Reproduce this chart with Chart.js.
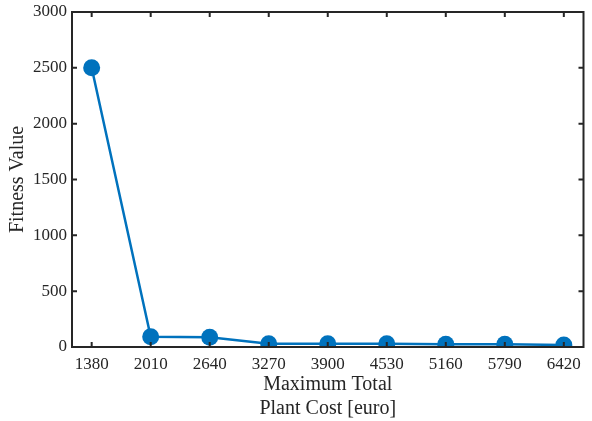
<!DOCTYPE html>
<html>
<head>
<meta charset="utf-8">
<script src="https://cdn.jsdelivr.net/npm/chart.js@4"></script>
<style>
  html, body { margin: 0; padding: 0; background: #fff; }
  #wrap { width: 592px; height: 421px; }
</style>
</head>
<body>
<div id="wrap"><canvas id="chart"></canvas></div>
<script>
// values
const plantCost = [1380, 2010, 2640, 3270, 3900, 4530, 5160, 5790, 6420];
const fitness = [2500, 92, 87, 30, 30, 30, 25, 24, 17];
const yTicks = [0, 500, 1000, 1500, 2000, 2500, 3000];

const AXIS = '#262626';
const BLUE = '#0072BD';
const FONT = '"Liberation Serif", "DejaVu Serif", serif';

// box around the plot with inward ticks on all four sides
const boxPlugin = {
  id: 'box',
  afterDraw(chart) {
    const { ctx, chartArea: a, scales } = chart;
    ctx.save();
    ctx.strokeStyle = AXIS;
    ctx.lineWidth = 2;
    ctx.strokeRect(a.left, a.top, a.right - a.left, a.bottom - a.top);
    const len = 5;
    ctx.beginPath();
    plantCost.forEach(v => {
      const x = scales.x.getPixelForValue(v);
      ctx.moveTo(x, a.bottom); ctx.lineTo(x, a.bottom - len);
      ctx.moveTo(x, a.top); ctx.lineTo(x, a.top + len);
    });
    yTicks.forEach(v => {
      const y = scales.y.getPixelForValue(v);
      ctx.moveTo(a.left, y); ctx.lineTo(a.left + len, y);
      ctx.moveTo(a.right, y); ctx.lineTo(a.right - len, y);
    });
    ctx.stroke();
    ctx.restore();
  }
};

new Chart(document.getElementById('chart'), {
  type: 'line',
  data: {
    datasets: [{
      data: plantCost.map((c, i) => ({ x: c, y: fitness[i] })),
      borderColor: BLUE,
      backgroundColor: BLUE,
      borderWidth: 2.5,
      pointRadius: 8.5,
      pointHoverRadius: 8.5,
      pointBorderWidth: 0,
      tension: 0
    }]
  },
  options: {
    responsive: true,
    maintainAspectRatio: false,
    animation: false,
    layout: { padding: { top: 12, right: 6, left: 0, bottom: 0 } },
    plugins: { legend: { display: false }, tooltip: { enabled: false } },
    scales: {
      x: {
        type: 'linear',
        min: 1170,
        max: 6630,
        afterBuildTicks: s => { s.ticks = plantCost.map(v => ({ value: v })); },
        afterFit: s => { s.height = 74; s.paddingLeft = 0; s.paddingRight = 0; },
        grid: { display: false, drawTicks: false },
        border: { display: false },
        ticks: { color: AXIS, font: { family: FONT, size: 17 }, padding: 7, maxRotation: 0, autoSkip: false,
                 callback: v => String(v) },
        title: {
          display: true,
          text: ['Maximum Total', 'Plant Cost [euro]'],
          color: AXIS,
          font: { family: FONT, size: 20, lineHeight: 1.2 },
          padding: { top: 0, bottom: 0 }
        }
      },
      y: {
        min: 0,
        max: 3000,
        afterBuildTicks: s => { s.ticks = yTicks.map(v => ({ value: v })); },
        afterFit: s => { s.width = 72; s.paddingTop = 0; s.paddingBottom = 0; },
        grid: { display: false, drawTicks: false },
        border: { display: false },
        ticks: { color: AXIS, font: { family: FONT, size: 17 }, padding: 5, callback: v => String(v) },
        title: {
          display: true,
          text: 'Fitness Value',
          color: AXIS,
          font: { family: FONT, size: 20 },
          padding: { top: 6, bottom: 0 }
        }
      }
    }
  },
  plugins: [boxPlugin]
});
</script>
</body>
</html>
